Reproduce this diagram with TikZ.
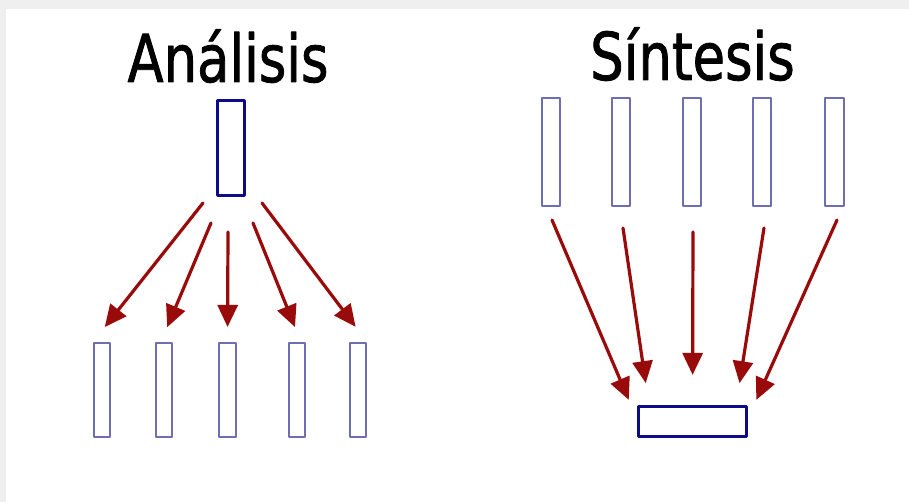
\documentclass[tikz,border=0pt]{standalone}
\usepackage{fontspec}
\newfontfamily\titlefont[FakeStretch=0.8,FakeBold=1.2]{DejaVu Sans}
\usetikzlibrary{arrows.meta}
\definecolor{boxnavy}{HTML}{0C0C88}
\definecolor{boxlilac}{HTML}{6E6EB4}
\definecolor{arrowred}{HTML}{990A0A}
\definecolor{framegray}{HTML}{EFEFEF}

\begin{document}
\begin{tikzpicture}[x=1pt,y=-1pt,>={Triangle[length=22pt,width=20pt]},line cap=round,line join=round,
  mainbox/.style={draw=boxnavy,line width=3.2pt,inner sep=0pt},
  partbox/.style={draw=boxlilac,line width=1.6pt,inner sep=0pt},
  flow/.style={->,draw=arrowred,line width=3.2pt},
  heading/.style={anchor=base,inner sep=0pt,font=\titlefont\fontsize{66}{70}\selectfont}]
\useasboundingbox (0,0) rectangle (909,502);
\fill[framegray] (0,0) rectangle (909,502);
\fill[white] (6,9) rectangle (909,502);
% left half: one block split into parts
\node[heading] (analisis) at (228,82) {Análisis};
\node[mainbox,minimum width=27pt,minimum height=95pt] (whole) at (231,148) {};
\node[partbox,minimum width=16.5pt,minimum height=94.5pt] (a1) at (102,390) {};
\node[partbox,minimum width=16.5pt,minimum height=94.5pt] (a2) at (164,390) {};
\node[partbox,minimum width=16.5pt,minimum height=94.5pt] (a3) at (227.5,390) {};
\node[partbox,minimum width=16.5pt,minimum height=94.5pt] (a4) at (297,390) {};
\node[partbox,minimum width=16.5pt,minimum height=94.5pt] (a5) at (358,390) {};
\coordinate (s1) at (203,203);
\coordinate (s2) at (211,223);
\coordinate (s3) at (228,232);
\coordinate (s4) at (253,223);
\coordinate (s5) at (262,203);
\draw[flow,shorten >=19pt] (s1) -- (a1.north west);
\draw[flow,shorten >=16pt] (s2) -- ([xshift=-3pt]a2.north);
\draw[flow,shorten >=15pt] (s3) -- (a3.north);
\draw[flow,shorten >=16pt] (s4) -- ([xshift=4pt]a4.north);
\draw[flow,shorten >=19pt] (s5) -- (a5.north east);
% right half: parts joined into one block
\node[heading] (sintesis) at (692.5,80) {Síntesis};
\node[partbox,minimum width=18.5pt,minimum height=108.5pt] (p1) at (551,152) {};
\node[partbox,minimum width=18.5pt,minimum height=108.5pt] (p2) at (621,152) {};
\node[partbox,minimum width=18.5pt,minimum height=108.5pt] (p3) at (692,152) {};
\node[partbox,minimum width=18.5pt,minimum height=108.5pt] (p4) at (762,152) {};
\node[partbox,minimum width=18.5pt,minimum height=108.5pt] (p5) at (834.5,152) {};
\node[mainbox,minimum width=108pt,minimum height=30pt] (joined) at (692.5,421.5) {};
\coordinate (e1) at (552,220);
\coordinate (e2) at (623,228);
\coordinate (e3) at (693,232);
\coordinate (e4) at (764,228);
\coordinate (e5) at (837,220);
\draw[flow,shorten >=5.5pt] (e1) -- ([xshift=-6pt]joined.north west);
\draw[flow,shorten >=22pt] (e2) -- ([xshift=12pt]joined.north west);
\draw[flow,shorten >=30pt] (e3) -- (joined.north);
\draw[flow,shorten >=22pt] (e4) -- ([xshift=-12pt]joined.north east);
\draw[flow,shorten >=5.5pt] (e5) -- ([xshift=6pt]joined.north east);
\end{tikzpicture}
\end{document}
